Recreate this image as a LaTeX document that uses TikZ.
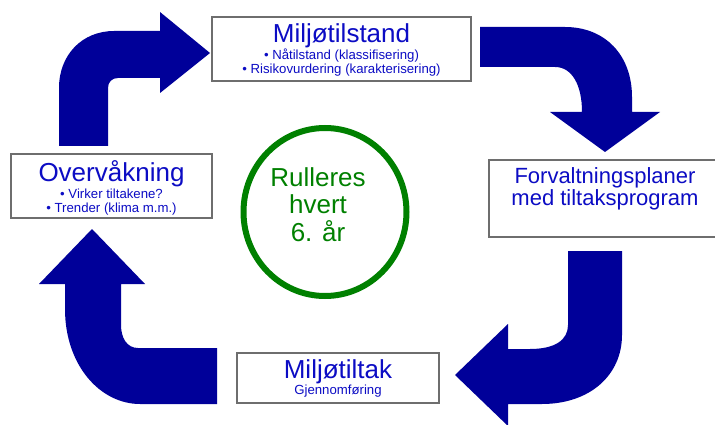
\documentclass[tikz,border=0pt]{standalone}
\usepackage{fontspec}
\setmainfont{Liberation Sans}
\usetikzlibrary{shapes.geometric}
\definecolor{txtblue}{RGB}{12,12,196}
\definecolor{arrowblue}{RGB}{0,0,153}
\definecolor{ringgreen}{RGB}{0,128,0}
\definecolor{boxgray}{RGB}{110,110,110}
\tikzset{
  box/.style={draw=boxgray, line width=1.1pt, fill=white, inner sep=0pt, outer sep=0pt},
  title/.style={font=\fontsize{26}{26}\selectfont, text=txtblue, anchor=base, inner sep=0pt, text depth=0pt},
  midtitle/.style={font=\fontsize{22}{22}\selectfont, text=txtblue, anchor=base, inner sep=0pt},
  sub/.style={font=\fontsize{13.2}{13.2}\selectfont, text=txtblue, anchor=base, inner sep=0pt, text height=8pt},
  ringtext/.style={font=\fontsize{26}{26}\selectfont, text=ringgreen, anchor=base, inner sep=0pt},
  bigarrow/.style={fill=arrowblue, draw=none}
}
\begin{document}
\begin{tikzpicture}[x=1pt, y=-1pt]
\useasboundingbox (0,0) rectangle (715,425);

% boxes
\node[box, minimum width=259pt, minimum height=64pt] (top) at (341.5,49) {};
\node[box, minimum width=201pt, minimum height=64pt] (left) at (111.5,186) {};
\node[box, minimum width=233pt, minimum height=77pt] (right) at (605.5,198.5) {};
\node[box, minimum width=202pt, minimum height=50pt] (bottom) at (338,378) {};

% ring
\node[ellipse, draw=ringgreen, line width=6pt, minimum width=163pt, minimum height=168pt, inner sep=0pt] (ring) at (325,212) {};

% texts
\node[title] (t1) at (341.5,42.5) {Miljøtilstand};
\node[sub] (t1a) at (341.5,60) {• Nåtilstand (klassifisering)};
\node[sub] (t1b) at (341.5,74) {• Risikovurdering (karakterisering)};

\node[title] (t2) at (111.5,182) {Overvåkning};
\node[sub] (t2a) at (111.5,198) {• Virker tiltakene?};
\node[sub] (t2b) at (111.5,212) {• Trender (klima m.m.)};

\node[midtitle] (t3) at (605,183) {Forvaltningsplaner};
\node[midtitle] (t3a) at (605,205.5) {med tiltaksprogram};

\node[title] (t4) at (338,378) {Miljøtiltak};
\node[sub] (t4a) at (338,394) {Gjennomføring};

\node[ringtext] (r1) at (318,186) {Rulleres};
\node[ringtext] (r2) at (318,213.5) {hvert};
\node[ringtext] (r3) at (318,241) {6. år};

% block arrows
% left box -> top box
\fill[bigarrow] (59,146) -- (59,88) .. controls (59,55) and (82,31) .. (114,31)
  -- (160,31) -- (160,12) -- (210,53) -- (160,93) -- (160,78) -- (118,78)
  .. controls (112,78) and (108,82) .. (108,88) -- (108,146) -- cycle;
% top box -> right box
\fill[bigarrow] (480,27) -- (565,27) .. controls (605,27) and (632,55) .. (632,97)
  -- (632,112) -- (660,112) -- (605,152) -- (550,112) -- (582,112)
  .. controls (582,85) and (572,67) .. (555,67) -- (480,67) -- cycle;
% right box -> bottom box
\fill[bigarrow] (568,251) -- (622,251) -- (622,335) .. controls (622,375) and (590,404) .. (542,404)
  -- (508,404) -- (508,426) -- (455,375) -- (508,324) -- (508,349) -- (530,349)
  .. controls (555,349) and (568,340) .. (568,325) -- cycle;
% bottom box -> left box
\fill[bigarrow] (217,348) -- (138,348) .. controls (127,348) and (121,338) .. (121,325)
  -- (121,284) -- (145,284) -- (92,229) -- (39,284) -- (65,284) -- (65,309)
  .. controls (65,365) and (100,404) .. (140,404) -- (217,404) -- cycle;
\end{tikzpicture}
\end{document}
